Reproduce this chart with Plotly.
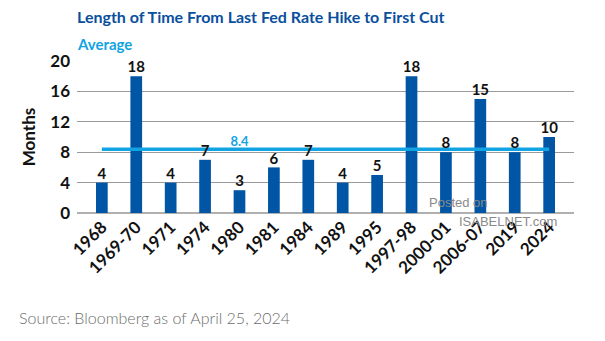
import plotly.graph_objects as go

# Episodes: last Fed hike -> first cut
periods = ["1968", "1969-70", "1971", "1974", "1980", "1981", "1984", "1989",
           "1995", "1997-98", "2000-01", "2006-07", "2019", "2024"]
months = [4, 18, 4, 7, 3, 6, 7, 4, 5, 18, 8, 15, 8, 10]
average = 8.4
avg_label_period = "1980"
y_ticks = [0, 4, 8, 12, 16, 20]

BAR = "#0055a4"
AVG = "#12a3e3"
TITLE = "#0a4f9e"
FONT = "Lato"

fig = go.Figure()

fig.add_trace(go.Bar(
    x=periods, y=months, width=0.34,
    marker=dict(color=BAR, line=dict(width=0)),
    showlegend=False,
))

fig.add_trace(go.Scatter(
    x=periods, y=[average] * len(periods), mode="lines",
    line=dict(color=AVG, width=3.5), showlegend=False, hoverinfo="skip",
))

# Value labels above each bar
fig.add_trace(go.Scatter(
    x=periods, y=months, mode="text",
    text=[f"<b>{v}</b>" for v in months], textposition="top center",
    textfont=dict(family=FONT, size=15, color="#111111"),
    showlegend=False, hoverinfo="skip", cliponaxis=False,
))

# Value label of the average line
fig.add_trace(go.Scatter(
    x=[avg_label_period], y=[average], mode="text",
    text=[f"<b>{average}</b>"], textposition="top center",
    textfont=dict(family=FONT, size=13, color=AVG),
    showlegend=False, hoverinfo="skip", cliponaxis=False,
))

fig.add_annotation(
    x=-0.004, y=1.29, xref="paper", yref="paper",
    xanchor="left", yanchor="middle", showarrow=False,
    text="<b>Length of Time From Last Fed Rate Hike to First Cut</b>",
    font=dict(family=FONT, size=16, color=TITLE),
)
fig.add_annotation(
    x=-0.004, y=1.115, xref="paper", yref="paper",
    xanchor="left", yanchor="middle", showarrow=False,
    text="<b>Average</b>",
    font=dict(family=FONT, size=15, color=AVG),
)

fig.add_annotation(
    x=-0.121, y=-0.685, xref="paper", yref="paper",
    xanchor="left", yanchor="middle", showarrow=False,
    text="Source: Bloomberg as of April 25, 2024",
    font=dict(family=FONT, size=16, color="#6d6d6d", weight=300),
)

# Watermark
fig.add_annotation(
    x=0.705, y=0.07, xref="paper", yref="paper",
    xanchor="left", yanchor="middle", showarrow=False,
    text="Posted on", font=dict(family="Liberation Sans", size=13, color="#8a8a8a"),
)
fig.add_annotation(
    x=0.765, y=-0.055, xref="paper", yref="paper",
    xanchor="left", yanchor="middle", showarrow=False,
    text="ISABELNET.com", font=dict(family="Liberation Sans", size=13, color="#8a8a8a"),
)

fig.update_layout(
    width=605, height=341,
    margin=dict(l=77, r=31, t=61, b=128),
    paper_bgcolor="white", plot_bgcolor="white",
    xaxis=dict(
        type="category", tickangle=-45, showgrid=False,
        tickfont=dict(family=FONT, size=17, color="#111111", weight="bold"),
        showline=False, ticks="",
    ),
    yaxis=dict(
        range=[0, 20], tickvals=y_ticks, showgrid=True,
        gridcolor="#9a9a9a", gridwidth=1, zeroline=True,
        zerolinecolor="#b0b0b0", zerolinewidth=1.5,
        tickfont=dict(family=FONT, size=17, color="#111111", weight="bold"),
        title=dict(text="<b>Months</b>", standoff=10,
                   font=dict(family=FONT, size=17, color="#111111")),
        ticks="", ticklabelstandoff=6,
    ),
)

fig.write_html("out.html")
